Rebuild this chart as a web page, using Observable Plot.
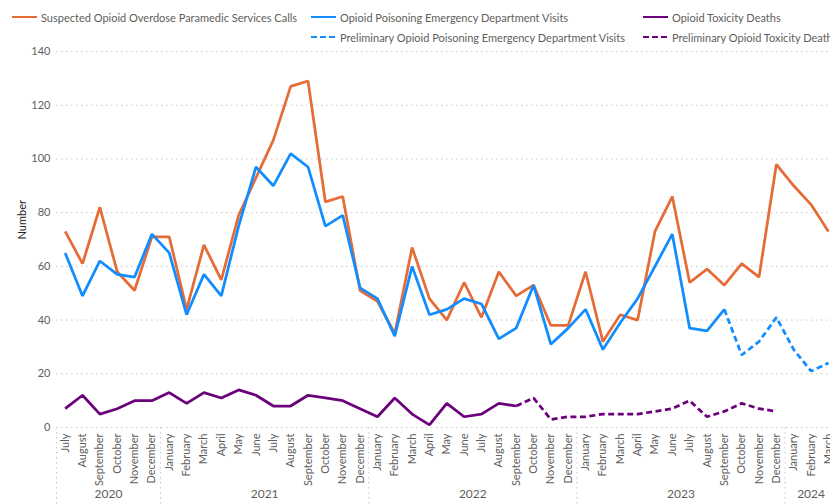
<!DOCTYPE html>
<html><head><meta charset="utf-8">
<script src="https://cdn.jsdelivr.net/npm/d3@7"></script>
<script src="https://cdn.jsdelivr.net/npm/@observablehq/plot@0.6"></script>
<style>
html,body{margin:0;padding:0;background:#fff;overflow:hidden;}
body{width:830px;height:504px;font-family:"Segoe UI",Lato,sans-serif;}
#legend{position:relative;height:46px;width:830px;overflow:hidden;}
.item{position:absolute;display:flex;align-items:center;white-space:nowrap;font-size:11px;color:#605E5C;height:14px;}
.item svg{margin-right:4px;}
#chart svg{display:block;overflow:visible;}
</style></head><body>
<div id="legend"></div><div id="chart"></div>
<script>
const months = ["July","August","September","October","November","December",
  "January","February","March","April","May","June","July","August","September","October","November","December",
  "January","February","March","April","May","June","July","August","September","October","November","December",
  "January","February","March","April","May","June","July","August","September","October","November","December",
  "January","February","March"];
const years = [2020,2020,2020,2020,2020,2020,
  2021,2021,2021,2021,2021,2021,2021,2021,2021,2021,2021,2021,
  2022,2022,2022,2022,2022,2022,2022,2022,2022,2022,2022,2022,
  2023,2023,2023,2023,2023,2023,2023,2023,2023,2023,2023,2023,
  2024,2024,2024];
const paramedicCalls = [73,61,82,58,51,71,
  71,44,68,55,79,93,107,127,129,84,86,51,
  47,35,67,48,40,54,41,58,49,53,38,38,
  58,32,42,40,73,86,54,59,53,61,56,98,
  90,83,73];
const edVisits = [65,49,62,57,56,72,
  65,42,57,49,75,97,90,102,97,75,79,52,
  48,34,60,42,44,48,46,33,37,53,31,37,
  44,29,39,48,60,72,37,36,44,null,null,null,
  null,null,null];
const edVisitsPrelim = [null,null,null,null,null,null,
  null,null,null,null,null,null,null,null,null,null,null,null,
  null,null,null,null,null,null,null,null,null,null,null,null,
  null,null,null,null,null,null,null,null,44,27,32,41,
  29,21,24];
const deaths = [7,12,5,7,10,10,
  13,9,13,11,14,12,8,8,12,11,10,7,
  4,11,5,1,9,4,5,9,8,null,null,null,
  null,null,null,null,null,null,null,null,null,null,null,null,
  null,null,null];
const deathsPrelim = [null,null,null,null,null,null,
  null,null,null,null,null,null,null,null,null,null,null,null,
  null,null,null,null,null,null,null,null,8,11,3,4,
  4,5,5,5,6,7,10,4,6,9,7,6,
  null,null,null];
const seriesNames = ["Suspected Opioid Overdose Paramedic Services Calls",
  "Opioid Poisoning Emergency Department Visits",
  "Opioid Toxicity Deaths",
  "Preliminary Opioid Poisoning Emergency Department Visits",
  "Preliminary Opioid Toxicity Deaths"];
const seriesColors = ["#E66C37","#118DFF","#6B007B","#118DFF","#6B007B"];
const seriesDashed = [false,false,false,true,true];
const seriesValues = [paramedicCalls, edVisits, deaths, edVisitsPrelim, deathsPrelim];
const yTicks = [0,20,40,60,80,100,120,140];
const yLabel = "Number";

// legend
const legendSlots = [[12,10],[311,10],[643,10],[311,30],[643,30]];
const legend = document.getElementById("legend");
seriesNames.forEach((name,i)=>{
  const d = document.createElement("div");
  d.className = "item";
  d.style.left = legendSlots[i][0]+"px";
  d.style.top = legendSlots[i][1]+"px";
  d.innerHTML = `<svg width="25" height="6"><line x1="0" y1="3" x2="25" y2="3" stroke="${seriesColors[i]}" stroke-width="2" ${seriesDashed[i]?'stroke-dasharray="6,3"':''}/></svg><span>${name}</span>`;
  legend.appendChild(d);
});

// records
const records = [];
seriesValues.forEach((vals,s)=>vals.forEach((v,i)=>{
  if (v != null) records.push({s, i, v});
}));

// year groups
const yearGroups = [];
years.forEach((y,i)=>{
  let g = yearGroups[yearGroups.length-1];
  if (!g || g.year !== y) { g = {year:y, first:i, last:i}; yearGroups.push(g); }
  g.last = i;
});
const separators = yearGroups.map(g=>g.first-0.5);

const n = months.length;
const chart = Plot.plot({
  width: 830,
  height: 458,
  marginLeft: 56,
  marginRight: 0,
  marginTop: 5,
  marginBottom: 77,
  style: {fontFamily: '"Segoe UI", Lato, sans-serif', fontSize: "11px", color: "#605E5C", background: "#fff", overflow: "visible"},
  x: {type: "linear", domain: [-0.5, n - 0.88], axis: null},
  y: {domain: [0,140], axis: null},
  marks: [
    Plot.gridY(yTicks, {stroke: "#C8C6C4", strokeOpacity: 1, strokeDasharray: "1.5,3.5"}),
    Plot.axisY(yTicks, {tickSize: 0, tickPadding: 6, label: null, fontSize: 11, fill: "#605E5C"}),
    Plot.text([yLabel], {frameAnchor: "left", dx: -34, rotate: -90, fill: "#252423", fontSize: 11}),
    Plot.axisX(d3.range(n), {tickSize: 0, tickPadding: 6, tickRotate: -90, tickFormat: i => months[i], label: null, fontSize: 11, fill: "#605E5C"}),
    Plot.ruleX(separators, {x: d=>d, y1: 0, y2: 0, insetBottom: -77, stroke: "#C8C6C4", strokeDasharray: "1.5,3.5"}),
    Plot.text(yearGroups, {x: g => (g.first + g.last)/2, frameAnchor: "bottom", dy: 70, text: g => String(g.year), fill: "#605E5C", fontSize: 12}),
    ...[0,1,2,3,4].map(s => Plot.line(records.filter(r=>r.s===s), {
      x: "i", y: "v", stroke: seriesColors[s], strokeWidth: 2.75,
      strokeDasharray: seriesDashed[s] ? "6,3.5" : null,
      strokeLinejoin: "miter", strokeLinecap: "butt", clip: true
    }))
  ]
});
document.getElementById("chart").appendChild(chart);
</script>
</body></html>
